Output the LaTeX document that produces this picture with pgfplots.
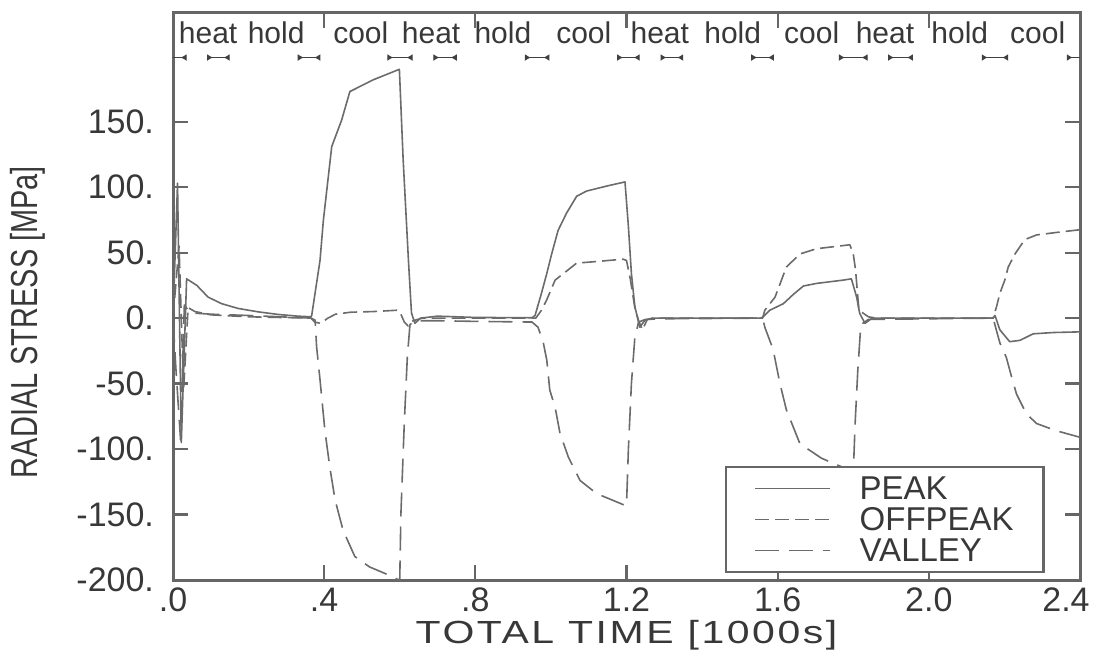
\documentclass[border=0pt]{standalone}
\usepackage{fontspec}
\setmainfont{Liberation Sans}
\newfontfamily\condfont{Liberation Sans}[FakeStretch=0.77]
\newfontfamily\widefont{Liberation Sans}[FakeStretch=1.28,LetterSpace=8]
\usepackage{pgfplots}
\pgfplotsset{compat=1.18}
\usetikzlibrary{arrows.meta}
\definecolor{ax}{gray}{0.40}
\definecolor{ln}{gray}{0.42}
\definecolor{tx}{gray}{0.22}
\begin{document}
\begin{tikzpicture}
\begin{axis}[
  name=ax,
  scale only axis,
  width=453.5pt, height=283.5pt,
  xmin=0, xmax=2.4, ymin=-200, ymax=233,
  xtick={0,0.4,0.8,1.2,1.6,2.0,2.4},
  xticklabels={.0,.4,.8,1.2,1.6,2.0,2.4\hspace*{14pt}},
  ytick={-200,-150,-100,-50,0,50,100,150},
  yticklabels={-200.,-150.,-100.,-50.,0.,50.,100.,150.},
  tick align=inside,
  major tick length=7.5pt,
  tick style={draw=ax, line width=1.1pt},
  axis line style={draw=ax, line width=1.5pt},
  ticklabel style={font=\fontsize{17}{20}\selectfont, text=tx},
  yticklabel style={xshift=-6pt},
  xticklabel style={yshift=-0.5pt},
  every axis y label/.style={at={(axis description cs:-0.16,0.455)}, rotate=90, anchor=center},
  every axis x label/.style={at={(axis description cs:0.5,0)}, anchor=center, yshift=-27.5pt},
  ylabel={\condfont\fontsize{18.8}{22}\selectfont RADIAL STRESS [MPa]},
  xlabel={\widefont\fontsize{16}{19}\selectfont TOTAL TIME [1000s]},
  label style={text=tx},
  legend style={at={(rel axis cs:0.9614,0.012)}, anchor=south east,
    draw=ax, line width=1.3pt, fill=white,
    inner xsep=13pt, inner ysep=3pt, row sep=0pt,
    font=\fontsize{16.5}{19}\selectfont, text=tx,
    nodes={inner sep=2pt, text height=11.5pt, text depth=0pt}},
  legend cell align=left,
  legend image code/.code={\draw[#1] (0pt,0pt) -- (37.5pt,0pt); \path (-1pt,0pt) (50pt,0pt);},
  every axis plot/.append style={line width=0.8pt, line join=round},
]
\addplot[ln] coordinates {
(0,0) (0.012,103) (0.022,-95) (0.036,30) (0.063,25) (0.093,16) (0.129,11) (0.172,7.4) (0.225,4.8) (0.278,2.8) (0.33,1.5) (0.365,1)
(0.367,2) (0.389,44) (0.398,75) (0.42,131) (0.446,151) (0.468,173) (0.53,182) (0.599,190) (0.609,121) (0.623,44) (0.631,4) (0.64,-4) (0.655,0) (0.7,1.5) (0.8,0.5) (0.95,0.3)
(0.958,2) (0.975,19) (0.989,34) (1.002,49) (1.019,67) (1.041,80) (1.068,93) (1.094,97) (1.15,101) (1.196,104) (1.205,70) (1.213,34) (1.222,9) (1.235,-7) (1.249,-1.5) (1.27,0) (1.555,0)
(1.562,1) (1.579,6) (1.615,11) (1.641,18) (1.668,24.5) (1.703,26.5) (1.773,29) (1.795,30) (1.809,16) (1.817,3.6) (1.831,-4) (1.85,0) (2.17,0)
(2.175,2) (2.188,-9) (2.214,-18) (2.241,-17) (2.276,-12) (2.33,-11) (2.4,-10.5)
};
\addlegendentry{PEAK}
\addplot[ln, dash pattern=on 7pt off 3pt] coordinates {
(0,0) (0.016,55) (0.028,-55) (0.04,8) (0.058,5) (0.1,2.5) (0.2,1) (0.365,0) (0.375,-3) (0.39,-4) (0.41,0) (0.43,3) (0.47,4.5) (0.53,5) (0.592,6) (0.6,5) (0.612,-3) (0.622,-6) (0.635,-2) (0.66,0) (0.96,0)
(0.975,6) (0.989,14) (1.011,29) (1.033,34) (1.068,42) (1.112,43) (1.191,45) (1.2,44) (1.21,30) (1.222,8) (1.232,-2) (1.242,-9) (1.255,-1) (1.27,0) (1.56,0)
(1.566,6) (1.593,16) (1.61,29) (1.623,39) (1.659,49) (1.703,53) (1.791,56) (1.8,49) (1.806,37) (1.815,6) (1.83,3) (1.84,1) (1.86,0) (2.17,0)
(2.179,8.6) (2.188,19) (2.201,29) (2.21,39) (2.228,49) (2.254,60) (2.285,63.5) (2.34,65.5) (2.4,67.5)
};
\addlegendentry{OFFPEAK}
\addplot[ln, dash pattern=on 12pt off 5pt] coordinates {
(0,0) (0.008,-40) (0.02,-93) (0.03,10) (0.045,4) (0.1,3) (0.2,2) (0.365,0) (0.376,-1.5) (0.38,-22) (0.389,-47) (0.402,-86) (0.415,-114) (0.429,-139) (0.45,-162) (0.481,-182) (0.52,-190) (0.561,-195) (0.598,-200) (0.6,-200)
(0.603,-150) (0.612,-80) (0.62,-30) (0.627,-5) (0.64,-2) (0.7,-2) (0.8,-2.5) (0.95,-3)
(0.966,-7) (0.98,-19) (0.989,-32) (0.997,-55) (1.011,-68) (1.024,-88) (1.046,-106) (1.077,-124) (1.121,-134) (1.196,-143) (1.2,-143) (1.205,-100) (1.213,-50) (1.222,-15) (1.232,-3) (1.25,-1) (1.3,-0.5) (1.56,0)
(1.566,-7) (1.588,-24) (1.606,-50) (1.623,-70) (1.659,-96) (1.716,-107) (1.773,-114) (1.797,-119) (1.8,-119) (1.805,-80) (1.812,-40) (1.82,-5) (1.84,-1) (2.17,0)
(2.188,-19) (2.205,-30) (2.219,-45) (2.232,-58) (2.258,-73) (2.285,-80.5) (2.337,-86) (2.4,-91)
};
\addlegendentry{VALLEY}
% phase labels
\begin{scope}[every node/.style={font=\fontsize{15}{18}\selectfont, text=tx, inner sep=0pt}]
\node at (axis cs:0.093,218) {heat};
\node at (axis cs:0.273,218) {hold};
\node at (axis cs:0.497,218) {cool};
\node at (axis cs:0.683,218) {heat};
\node at (axis cs:0.873,218) {hold};
\node at (axis cs:1.087,218) {cool};
\node at (axis cs:1.288,218) {heat};
\node at (axis cs:1.481,218) {hold};
\node at (axis cs:1.690,218) {cool};
\node at (axis cs:1.884,218) {heat};
\node at (axis cs:2.082,218) {hold};
\node at (axis cs:2.288,218) {cool};
\end{scope}
% phase boundary markers
\begin{scope}[line width=0.7pt, draw=black!75]
\draw[-{Latex[reversed,length=3pt,width=3.5pt]}] (axis cs:0.0,199) -- (axis cs:0.036,199);
\draw[{Latex[reversed,length=3pt,width=3.5pt]}-{Latex[reversed,length=3pt,width=3.5pt]}] (axis cs:0.09,199) -- (axis cs:0.15,199);
\draw[{Latex[reversed,length=3pt,width=3.5pt]}-{Latex[reversed,length=3pt,width=3.5pt]}] (axis cs:0.33,199) -- (axis cs:0.39,199);
\draw[{Latex[reversed,length=3pt,width=3.5pt]}-{Latex[reversed,length=3pt,width=3.5pt]}] (axis cs:0.567,199) -- (axis cs:0.634,199);
\draw[{Latex[reversed,length=3pt,width=3.5pt]}-{Latex[reversed,length=3pt,width=3.5pt]}] (axis cs:0.689,199) -- (axis cs:0.751,199);
\draw[{Latex[reversed,length=3pt,width=3.5pt]}-{Latex[reversed,length=3pt,width=3.5pt]}] (axis cs:0.931,199) -- (axis cs:0.996,199);
\draw[{Latex[reversed,length=3pt,width=3.5pt]}-{Latex[reversed,length=3pt,width=3.5pt]}] (axis cs:1.175,199) -- (axis cs:1.235,199);
\draw[{Latex[reversed,length=3pt,width=3.5pt]}-{Latex[reversed,length=3pt,width=3.5pt]}] (axis cs:1.29,199) -- (axis cs:1.35,199);
\draw[{Latex[reversed,length=3pt,width=3.5pt]}-{Latex[reversed,length=3pt,width=3.5pt]}] (axis cs:1.53,199) -- (axis cs:1.59,199);
\draw[{Latex[reversed,length=3pt,width=3.5pt]}-{Latex[reversed,length=3pt,width=3.5pt]}] (axis cs:1.762,199) -- (axis cs:1.838,199);
\draw[{Latex[reversed,length=3pt,width=3.5pt]}-{Latex[reversed,length=3pt,width=3.5pt]}] (axis cs:1.892,199) -- (axis cs:1.958,199);
\draw[{Latex[reversed,length=3pt,width=3.5pt]}-{Latex[reversed,length=3pt,width=3.5pt]}] (axis cs:2.14,199) -- (axis cs:2.21,199);
\draw[{Latex[reversed,length=3pt,width=3.5pt]}-] (axis cs:2.365,199) -- (axis cs:2.4,199);
\end{scope}
\end{axis}
\pgfresetboundingbox
\path ([shift={(-86.5pt,-40pt)}]ax.south west) rectangle ([shift={(7pt,6.5pt)}]ax.north east);
\end{tikzpicture}
\end{document}
